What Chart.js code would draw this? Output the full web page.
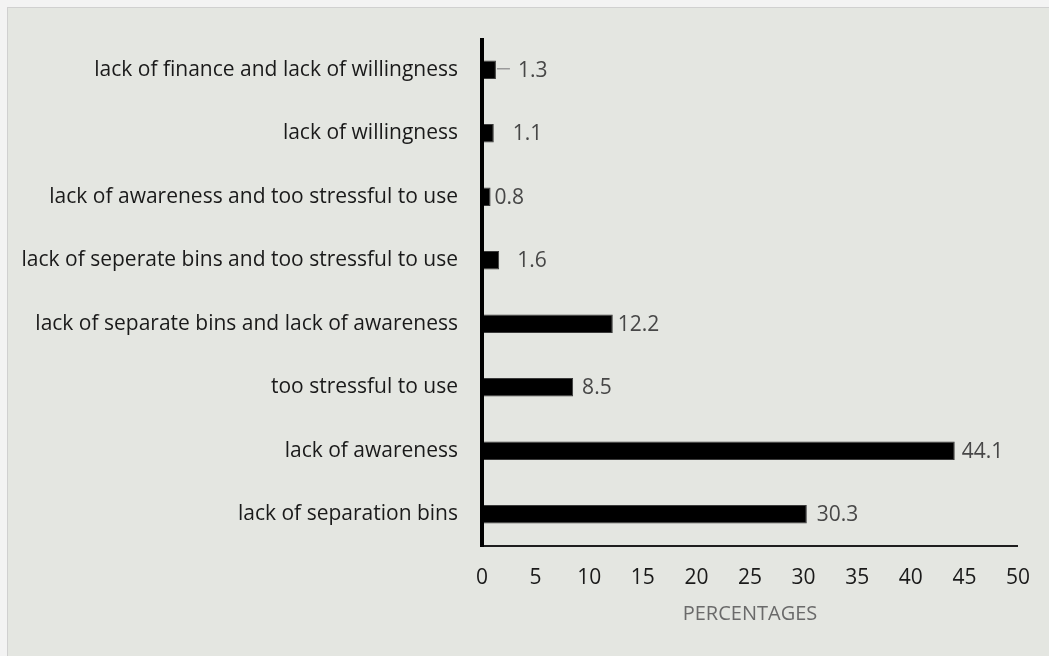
<!DOCTYPE html>
<html>
<head>
<meta charset="utf-8">
<script src="https://cdn.jsdelivr.net/npm/chart.js@4.4.1/dist/chart.umd.min.js"></script>
<style>
  html, body { margin: 0; padding: 0; background: #f3f3f3; }
  #panel {
    position: absolute; left: 7px; top: 7px; width: 1042px; height: 649px;
    background: #e4e6e1; border-left: 1px solid #d0d0d0; border-top: 1px solid #d0d0d0;
    box-sizing: border-box;
  }
  #wrap { position: absolute; left: 0; top: 0; width: 1049px; height: 656px; }
</style>
</head>
<body>
<div id="panel"></div>
<div id="wrap"><canvas id="reasonChart" width="1049" height="656"></canvas></div>
<script>
//------------------------------ DATA ----------------------------------
const reasons = [
  'lack of finance and lack of willingness',
  'lack of willingness',
  'lack of awareness and too stressful to use',
  'lack of seperate bins and too stressful to use',
  'lack of separate bins and lack of awareness',
  'too stressful to use',
  'lack of awareness',
  'lack of separation bins'
];
const percentages = [1.3, 1.1, 0.8, 1.6, 12.2, 8.5, 44.1, 30.3];
const xTicks = [0, 5, 10, 15, 20, 25, 30, 35, 40, 45, 50];

// gap between bar end and its value label (px), some labels were dragged out
const labelGap = [22, 19, 4, 18, 5, 9, 7, 10];

const FONT = '"Open Sans", "Liberation Sans", sans-serif';

// Value labels next to each bar, plus the little leader line on the first one
const valueLabels = {
  id: 'valueLabels',
  afterDatasetsDraw(chart) {
    const ctx = chart.ctx;
    const meta = chart.getDatasetMeta(0);
    ctx.save();
    ctx.font = '21px ' + FONT;
    ctx.fillStyle = '#474747';
    ctx.textBaseline = 'middle';
    ctx.textAlign = 'left';
    meta.data.forEach((bar, i) => {
      const x = bar.x + labelGap[i];
      ctx.fillText(percentages[i].toFixed(1), x, bar.y + 1);
      if (i === 0) {
        ctx.strokeStyle = '#9a9a9a';
        ctx.lineWidth = 1.5;
        ctx.beginPath();
        ctx.moveTo(bar.x + 1, bar.y - 1);
        ctx.lineTo(x - 8, bar.y - 1);
        ctx.stroke();
      }
    });
    ctx.restore();
  }
};

// Axis lines: heavy vertical, lighter horizontal
const axisLines = {
  id: 'axisLines',
  afterDatasetsDraw(chart) {
    const { ctx, chartArea } = chart;
    ctx.save();
    ctx.strokeStyle = '#1e1e1e';
    ctx.lineWidth = 2;
    ctx.beginPath();
    ctx.moveTo(chartArea.left, chartArea.bottom);
    ctx.lineTo(chartArea.right, chartArea.bottom);
    ctx.stroke();
    ctx.strokeStyle = '#000';
    ctx.lineWidth = 4;
    ctx.beginPath();
    ctx.moveTo(chartArea.left, chartArea.top);
    ctx.lineTo(chartArea.left, chartArea.bottom + 1);
    ctx.stroke();
    ctx.restore();
  }
};

new Chart(document.getElementById('reasonChart'), {
  type: 'bar',
  data: {
    labels: reasons,
    datasets: [{
      data: percentages,
      backgroundColor: '#000000',
      borderColor: '#3a3a3a',
      borderWidth: 1,
      borderSkipped: 'left',
      barPercentage: 0.29,
      categoryPercentage: 1.0
    }]
  },
  options: {
    indexAxis: 'y',
    responsive: false,
    animation: false,
    layout: { padding: { left: 0, right: 31, top: 38, bottom: 0 } },
    plugins: {
      legend: { display: false },
      tooltip: { enabled: false }
    },
    scales: {
      x: {
        min: 0,
        max: 50,
        afterBuildTicks: scale => { scale.ticks = xTicks.map(v => ({ value: v })); },
        afterFit: scale => { scale.height = 110; },
        grid: { display: false, drawTicks: false },
        border: { display: false },
        ticks: {
          color: '#1a1a1a',
          padding: 19,
          font: { family: FONT, size: 21 }
        },
        title: {
          display: true,
          text: 'PERCENTAGES',
          color: '#6a6a6a',
          padding: { top: 4, bottom: 30 },
          font: { family: FONT, size: 20 }
        }
      },
      y: {
        afterFit: scale => { scale.width = 482; },
        grid: { display: false, drawTicks: false },
        border: { display: false },
        ticks: {
          color: '#1a1a1a',
          padding: 24,
          font: { family: FONT, size: 21 }
        }
      }
    }
  },
  plugins: [axisLines, valueLabels]
});
</script>
</body>
</html>
